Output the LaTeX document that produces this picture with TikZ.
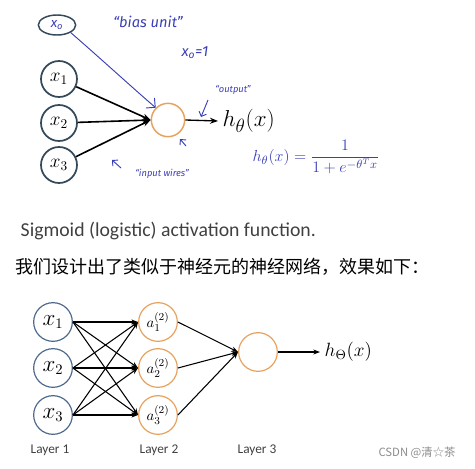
\documentclass[tikz,border=0pt]{standalone}
\usepackage{fontspec}
\setsansfont{Carlito}
\newfontfamily\cjkfont{Noto Sans CJK SC}
\newfontfamily\penfont{Fira Sans}
\usetikzlibrary{arrows.meta, shapes.geometric}

\definecolor{inkslate}{HTML}{34495A}
\definecolor{inputblue}{HTML}{4E6A8C}
\definecolor{unitorange}{HTML}{E6A25E}
\definecolor{penblue}{HTML}{3B3FB5}
\definecolor{captiongray}{HTML}{404040}

\begin{document}
\begin{tikzpicture}[
    x=0.75pt, y=-0.75pt,
    inunit/.style={
      circle, draw=inkslate, line width=1.3pt, fill=white,
      minimum size=27pt, inner sep=0pt, font=\fontsize{14}{16}\selectfont,
    },
    sigunit/.style ={circle, draw=unitorange, line width=1.1pt, minimum size=25pt, inner sep=0pt},
    xunit/.style   ={circle, draw=inputblue, line width=0.9pt, minimum size=29pt, inner sep=0pt,
                     font=\fontsize{16}{18}\selectfont},
    aunit/.style   ={circle, draw=unitorange, line width=0.9pt, minimum size=29pt, inner sep=0pt,
                     font=\fontsize{11}{13}\selectfont},
    pen/.style     ={text=penblue, font=\penfont\itshape\fontsize{9}{11}\selectfont},
    penarrow/.style={-{Straight Barb[length=3pt]}, penblue, line width=0.7pt},
    wire/.style    ={-{Stealth[length=6pt]}, line width=1.2pt},
    link/.style    ={-{Stealth[length=5pt]}, line width=0.8pt},
    layerlab/.style={font=\sffamily\fontsize{10}{12}\selectfont, text=captiongray},
]
\useasboundingbox (0,0) rectangle (475,468);

% single neuron with bias unit
\node[ellipse, draw=inkslate, line width=1.1pt, minimum width=28pt, minimum height=15pt,
      inner sep=0pt, text=penblue, font=\penfont\itshape\fontsize{10}{12}\selectfont] (x0) at (57,25) {x\textsubscript{o}};
\node[inunit] (x1) at (59,79)  {$x_1$};
\node[inunit] (x2) at (59,123) {$x_2$};
\node[inunit] (x3) at (59,165) {$x_3$};
\node[sigunit] (neu) at (168,120) {};
\node[font=\fontsize{19}{21}\selectfont, anchor=west] (hout) at (218,121) {$h_\theta(x)$};

\foreach \n in {x1, x2, x3}
    \draw[wire] (\n) -- (neu.west);
\draw[wire, line width=1pt] (neu.east) -- (hout.west);
\coordinate (bendA) at (100,58);
\coordinate (bendB) at (135,90);
\draw[penarrow, -{Straight Barb[length=5pt]}] (x0.south east) .. controls (bendA) and (bendB) .. (neu.north west);

\node[pen, font=\penfont\itshape\fontsize{11}{13}\selectfont] (bias) at (148,22) {“bias unit”};
\node[pen, font=\penfont\itshape\fontsize{11}{13}\selectfont] (xeq)  at (195,53) {x\textsubscript{o}=1};
\node[pen, font=\penfont\itshape\fontsize{7}{9}\selectfont]  (outlab) at (233,90) {“output”};
\node[pen, font=\penfont\itshape\fontsize{7}{9}\selectfont]  (inlab)  at (162,174) {“input wires”};
\coordinate (outtail) at (208,100);
\coordinate (outtip)  at (201,117);
\coordinate (intail)  at (121,168);
\coordinate (intip)   at (112,160);
\coordinate (neutail) at (186,146);
\coordinate (neutip)  at (180,139);
\draw[penarrow] (outtail) -- (outtip);
\draw[penarrow] (intail) -- (intip);
\draw[penarrow] (neutail) -- (neutip);
\node[text=penblue, font=\fontsize{13}{15}\selectfont, anchor=west] (sigeq) at (248,157)
    {$h_{\theta}(x)=\displaystyle\frac{1}{1+e^{-\theta^T x}}$};

\node[font=\sffamily\fontsize{14.8}{17}\selectfont, text=captiongray, anchor=west] (cap) at (16,231)
    {Sigmoid (logistic) activation function.};
\node[font=\cjkfont\fontsize{13.5}{16}\selectfont, anchor=west] (cn) at (11,267)
    {我们设计出了类似于神经元的神经网络，效果如下：};

% three layer network
\node[xunit] (in1) at (53,322) {$x_1$};
\node[xunit] (in2) at (53,368) {$x_2$};
\node[xunit] (in3) at (53,415) {$x_3$};
\node[aunit] (a1) at (158,322) {$a_1^{(2)}$};
\node[aunit] (a2) at (158,368) {$a_2^{(2)}$};
\node[aunit] (a3) at (158,415) {$a_3^{(2)}$};
\node[aunit] (out) at (258,352) {};
\node[font=\fontsize{14}{16}\selectfont, anchor=west] (hnet) at (320,352) {$h_\Theta(x)$};

\foreach \i in {1,2,3}
  \foreach \j in {1,2,3}
    \draw[link] (in\i.east) -- (a\j.west);
\foreach \j in {1,2,3}
    \draw[link] (a\j.east) -- (out.west);
\draw[link] (out.east) -- (hnet.west);

\node[layerlab] (lay1) at (50,450)  {Layer 1};
\node[layerlab] (lay2) at (159,450) {Layer 2};
\node[layerlab] (lay3) at (257,450) {Layer 3};
\node[font=\cjkfont\fontsize{8.5}{10}\selectfont, text=black!45] (mark) at (417,453) {CSDN @清☆茶};
\end{tikzpicture}
\end{document}
